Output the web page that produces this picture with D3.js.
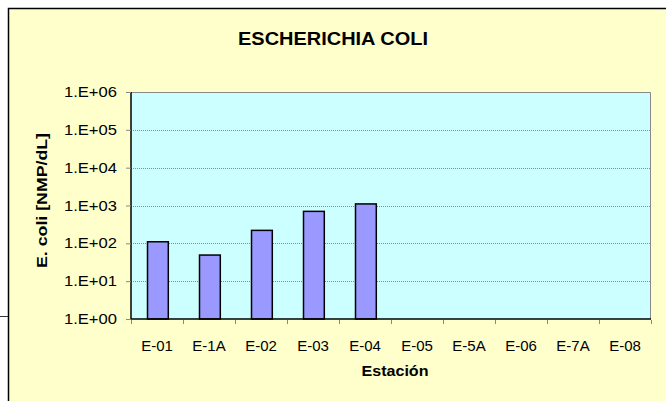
<!DOCTYPE html>
<html><head><meta charset="utf-8">
<script src="https://cdn.jsdelivr.net/npm/d3@7"></script>
<style>body{margin:0;background:#fff;} text{font-family:"Liberation Sans",Arial,sans-serif;}</style>
</head><body>
<svg id="chart" width="666" height="401"></svg>
<script>
const categories = ["E-01","E-1A","E-02","E-03","E-04","E-05","E-5A","E-06","E-7A","E-08"];
const values = [110, 49, 220, 700, 1100, null, null, null, null, null];
const yTicks = [1,10,100,1000,10000,100000,1000000];
const yTickLabels = ["1.E+00","1.E+01","1.E+02","1.E+03","1.E+04","1.E+05","1.E+06"];
const title = "ESCHERICHIA COLI";
const xTitle = "Estación";
const yTitle = "E. coli [NMP/dL]";

const svg = d3.select("#chart");
// outer frame
svg.append("rect").attr("x",8.5).attr("y",8.5).attr("width",700).attr("height",450)
  .attr("fill","#FFFFCC").attr("stroke","#000").attr("stroke-width",1.5);
svg.append("line").attr("x1",0).attr("x2",8).attr("y1",316.5).attr("y2",316.5).attr("stroke","#333");

const L=131, R=651, T=92, B=319;
const x = d3.scaleBand().domain(categories).range([L,R]).paddingInner(0.6).paddingOuter(0.3);
const xb = d3.scaleBand().domain(categories).range([L,R]);
const y = d3.scaleLog().domain([1,1e6]).range([B,T]);

svg.append("rect").attr("x",L).attr("y",T).attr("width",R-L).attr("height",B-T).attr("fill","#CCFFFF");

// gridlines
svg.append("g").selectAll("line").data(yTicks.slice(1,-1)).join("line")
  .attr("x1",L).attr("x2",R).attr("y1",d=>Math.round(y(d))+0.5).attr("y2",d=>Math.round(y(d))+0.5)
  .attr("stroke","#6f9a86").attr("stroke-dasharray","1,1").attr("stroke-width",1);

// plot border (top/right gray)
svg.append("path").attr("d",`M${L},${T+0.5}H${R-0.5}V${B}`).attr("fill","none").attr("stroke","#888").attr("stroke-width",1);

// bars
svg.append("g").selectAll("rect").data(categories.map((c,i)=>({c,v:values[i]})).filter(d=>d.v!=null)).join("rect")
  .attr("x",d=>Math.round(x(d.c))+0.5).attr("width",x.bandwidth())
  .attr("y",d=>y(d.v)).attr("height",d=>B-y(d.v))
  .attr("fill","#9999FF").attr("stroke","#000").attr("stroke-width",1.5);

// y axis
const yAxis = d3.axisLeft(y).tickValues(yTicks).tickFormat((d,i)=>yTickLabels[i]).tickSize(5).tickPadding(9);
const gy = svg.append("g").attr("transform",`translate(${L},0)`).call(yAxis);
gy.select(".domain").attr("stroke","#000").attr("stroke-width",1.5).attr("d",`M0,${T}V${B}`);
gy.selectAll(".tick line").attr("stroke","#888");
gy.selectAll(".tick text").attr("font-size",14.5).attr("fill","#000")
  .attr("font-family","Liberation Sans, Arial, sans-serif")
  .attr("textLength",53).attr("lengthAdjust","spacingAndGlyphs");

// x axis
const xAxis = d3.axisBottom(xb).tickSize(0).tickPadding(21);
const gx = svg.append("g").attr("transform",`translate(0,${B})`).call(xAxis);
gx.select(".domain").attr("stroke","#000").attr("stroke-width",1.5).attr("d",`M${L},0H${R}`);
gx.selectAll(".tick text").attr("font-size",15).attr("fill","#000").attr("font-family","Liberation Sans, Arial, sans-serif");
svg.append("g").selectAll("line").data(categories.concat(["_end"])).join("line")
  .attr("x1",(d,i)=>L+i*xb.bandwidth()+0.5).attr("x2",(d,i)=>L+i*xb.bandwidth()+0.5)
  .attr("y1",B+1).attr("y2",B+5).attr("stroke","#888");

// titles
svg.append("text").attr("x",333).attr("y",45).attr("text-anchor","middle")
  .attr("font-size",18.5).attr("font-weight","bold")
  .attr("textLength",190).attr("lengthAdjust","spacingAndGlyphs").text(title);
svg.append("text").attr("x",395).attr("y",376).attr("text-anchor","middle")
  .attr("font-size",15).attr("font-weight","bold")
  .attr("textLength",67).attr("lengthAdjust","spacingAndGlyphs").text(xTitle);
svg.append("text").attr("transform","translate(46.5,200.5) rotate(-90)").attr("text-anchor","middle")
  .attr("font-size",14.5).attr("font-weight","bold")
  .attr("textLength",135).attr("lengthAdjust","spacingAndGlyphs").text(yTitle);
</script>
</body></html>
